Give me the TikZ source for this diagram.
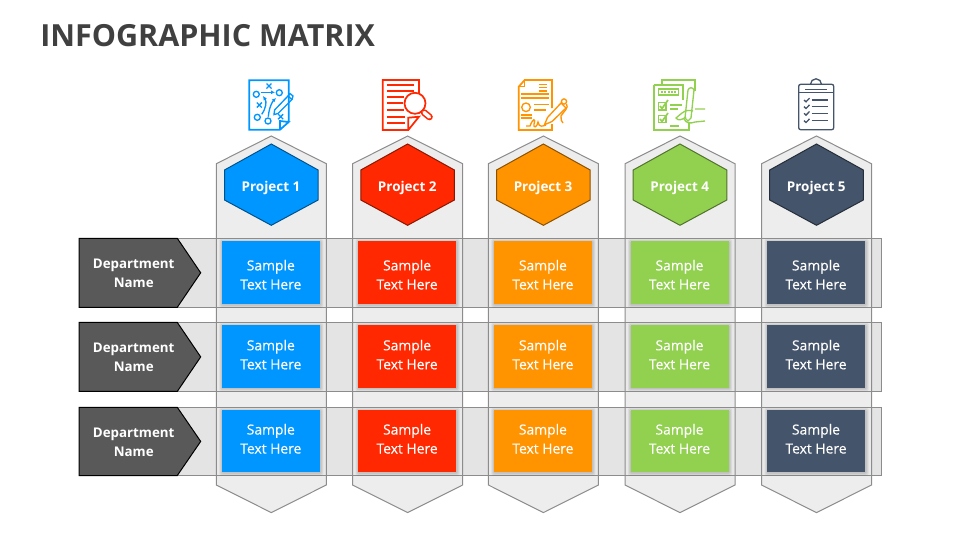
\documentclass[tikz,border=0pt]{standalone}
\usepackage{fontspec}
\usetikzlibrary{arrows.meta}
\setmainfont{Open Sans}
\newfontfamily\cellfont[FakeBold=0.25]{Open Sans}
\definecolor{cBlue}{HTML}{0096FF}
\definecolor{cRed}{HTML}{FF2800}
\definecolor{cOrange}{HTML}{FF9300}
\definecolor{cGreen}{HTML}{92D050}
\definecolor{cNavy}{HTML}{44546A}
\definecolor{cLine}{HTML}{8C8C8C}
\definecolor{cBand}{HTML}{E4E4E4}
\definecolor{cCol}{HTML}{EAEAEA}
\definecolor{cDept}{HTML}{595959}
\definecolor{cTitle}{HTML}{404040}
\tikzset{
  x=0.75pt,y=-0.75pt,
  titletext/.style={anchor=base west,inner sep=0,text=cTitle,font=\fontsize{22.85}{28}\selectfont\bfseries},
  headtext/.style={inner sep=0,text=white,font=\fontsize{10.1}{14}\selectfont\bfseries},
  depttext/.style={inner sep=0,text=white,align=center,font=\fontsize{10}{14.25}\selectfont\bfseries},
  celltext/.style={inner sep=0,text=white,align=center,font=\fontsize{10.4}{14.25}\cellfont\selectfont},
  ico/.style={line width=1.3pt,line join=miter},
  icof/.style={line width=1pt},
}
\begin{document}
\begin{tikzpicture}
\useasboundingbox (0,0) rectangle (960,540);
\node[titletext] (title) at (40,46) {INFOGRAPHIC MATRIX};
% bands
\foreach \t/\b in {238.3/307.3,322.4/391.4,407.3/475.5}
  \fill[cBand] (79,\t) rectangle (881.7,\b);
% columns
\foreach \c in {271.3,407.6,543.4,680,816.5}{
  \fill[cCol,fill opacity=.88] (\c,136) -- (\c+55,163.7) -- (\c+55,485) -- (\c,512.6) -- (\c-55,485) -- (\c-55,163.7) -- cycle;
  \draw[cLine,line width=.75pt] (\c,136) -- (\c+55,163.7) -- (\c+55,485) -- (\c,512.6) -- (\c-55,485) -- (\c-55,163.7) -- cycle;
}
\foreach \t/\b in {238.3/307.3,322.4/391.4,407.3/475.5}
  \draw[cLine,line width=.75pt] (79,\t) rectangle (881.7,\b);
% hexagons, cards
\foreach \c/\col/\n in {271.3/cBlue/1,407.6/cRed/2,543.4/cOrange/3,680/cGreen/4,816.5/cNavy/5}{
  \draw[fill=\col,draw=\col!55!black,line width=.75pt] (\c,144) -- (\c+46.8,170) -- (\c+46.8,200) -- (\c,225.3) -- (\c-46.8,200) -- (\c-46.8,170) -- cycle;
  \node[headtext] (head\n) at (\c-.3,187.5) {Project \n};
  \foreach \r/\t/\b/\m in {1/241/304/274.7,2/325/387.7/354.6,3/410/472/438.8}{
    \foreach \g in {3,2,1}
      \fill[black,fill opacity=.06,rounded corners=1pt] (\c-49.5-\g+.5,\t-\g+1) rectangle (\c+48.5+\g+.5,\b+\g+.5);
    \fill[\col] (\c-49.5,\t) rectangle (\c+48.5,\b);
    \node[celltext] (cell\n\r) at (\c-.5,\m) {Sample\\Text Here};
  }
}
% department arrows
\foreach \t/\m/\b/\tm/\r in {238.3/272.8/307.3/272.8/1,322.4/356.9/391.4/356.9/2,407.3/441.4/475.5/441.9/3}{
  \draw[fill=cDept,draw=black,line width=.75pt] (79,\t) -- (177.3,\t) -- (200.7,\m) -- (177.3,\b) -- (79,\b) -- cycle;
  \node[depttext] (dept\r) at (133.7,\tm) {Department\\Name};
}
% icon 1
\begin{scope}[cBlue,ico]
  \draw (288.7,122) -- (288.7,80.3) -- (249.3,80.3) -- (249.3,129.7) -- (280,129.7) -- (288.7,122) -- (280,121) -- (280,129.7);
  \begin{scope}[icof]
  \foreach \p in {(256.3,94.3),(279.3,92.7),(257.3,117.3),(268,121)} \draw \p circle (3);
  \foreach \p in {(269,86),(259.3,105),(280.7,116.7)} \draw \p +(-2.5,-2.5) -- +(2.5,2.5) +(-2.5,2.5) -- +(2.5,-2.5);
  \draw[-{Latex[length=3pt,width=3pt]}] (260.7,92.3) -- (275,92.3);
  \draw[-{Latex[length=3pt,width=3pt]}] (261.7,114.3) .. controls (266,108) and (267,102) .. (263,96);
  \draw[-{Latex[length=3pt,width=3pt]}] (268.3,116.7) .. controls (269,108) and (272,102) .. (276,98);
  \draw (274.6,110) -- (288,96) -- (292,99.5) -- (278,113.5) -- (274,114.5) -- cycle;
  \draw (288,96) -- (290,93.5) -- (293,96) -- (292,99.5);
  \end{scope}
\end{scope}
% icon 2
\begin{scope}[cRed,ico]
  \draw (419,93) -- (419,80) -- (382.7,80) -- (382.7,130) -- (408.3,130) -- (419,116.7) -- (408.3,117.7) -- (408.3,130);
  \foreach \y/\e in {85/414,91/414,97.3/404,103.3/403,110/404,116.7/405,123.3/405}
    \draw (387.3,\y) -- (\e,\y);
  \draw[fill=white] (415,103.3) circle (10.5);
  \draw[line width=5pt,line cap=round] (424,112.5) -- (429.5,117);
  \draw[white,line width=2.6pt,line cap=round] (424,112.5) -- (429.5,117);
\end{scope}
% icon 3
\begin{scope}[cOrange,ico]
  \draw (552,108) -- (552,80) -- (524.7,80) -- (518.7,86.7) -- (518.7,130) -- (552,130) -- (552,124);
  \draw[icof] (518.7,86.7) -- (524.7,86.7) -- (524.7,80);
  \begin{scope}[icof]
  \foreach \y in {84.3,87.7,91} \draw (538.7,\y) -- (547,\y);
  \foreach \y in {94.3,97.7} \draw[line width=1.3pt] (521,\y) -- (549.3,\y);
  \draw (526,107.3) circle (4.3);
  \draw (533.7,104.3) -- (549,104.3) (533.7,110) -- (546,110);
  \draw[line width=1.3pt] (521,115) -- (532,115) (521,118.3) -- (532,118.3);
  \draw (526,126) -- (530,126) .. controls (533,118) and (536,118) .. (534,124) .. controls (533,128) and (537,128) .. (538,122) .. controls (539,128) and (543,126) .. (546,125);
  \draw[fill=white] (544.5,124.7) -- (547.5,117.5) -- (561,103) -- (566,108) -- (552,121.5) -- cycle;
  \draw[fill=white] (564,101.5) circle (2.6);
  \draw (566.5,104) .. controls (569,108) and (564,111) .. (561,116) .. controls (560,119) and (562,122) .. (563,123);
  \end{scope}
\end{scope}
% icon 4
\begin{scope}[cGreen,ico]
  \draw (661.7,85) -- (661.7,80) -- (695.3,80) -- (695.3,91);
  \draw (654,85) -- (683.3,85) -- (683.3,100) (654,85) -- (654,130) -- (689,130) -- (689,122);
  \begin{scope}[icof]
  \draw (658.3,89) rectangle (678.3,95);
  \draw[dash pattern=on 1.5pt off 1pt] (661,92) -- (676,92);
  \draw (658.3,102.3) rectangle (666,110);
  \draw (658.3,115.7) rectangle (666,122.7);
  \draw[line width=1.3pt] (660,106) -- (662,108.5) -- (668,100);
  \draw[line width=1.3pt] (660,119) -- (662,121.5) -- (668,113);
  \draw (670,105) -- (682,105) (670,109) -- (678,109);
  \draw (670,126) -- (679,126);
  \draw[fill=white] (688,90) .. controls (689,87) and (693,87) .. (694,90) -- (691,118) -- (688,121) -- (685,118) -- cycle;
  \draw (705,109) -- (695,109) (693,111) .. controls (689,110) and (686,110) .. (682,113) -- (676,118) .. controls (678,121) and (682,120) .. (686,117);
  \draw (705,121) -- (695,122) .. controls (690,124) and (686,123) .. (684,119);
  \end{scope}
\end{scope}
% icon 5
\begin{scope}[cNavy,icof]
  \draw[rounded corners=1.5pt] (798.7,84.3) rectangle (833.7,129.7);
  \draw (810.5,84.3) arc (180:360:5.5);
  \draw (798.7,92.7) -- (833.7,92.7);
  \draw (805,89.3) -- (827.3,89.3);
  \foreach \y in {100,106.7,113.3,120.7}{
    \draw (804,\y) -- (806,\y+1.8) -- (809.5,\y-1.8);
    \draw (811.7,\y) -- (828.3,\y);
  }
\end{scope}
\end{tikzpicture}
\end{document}
